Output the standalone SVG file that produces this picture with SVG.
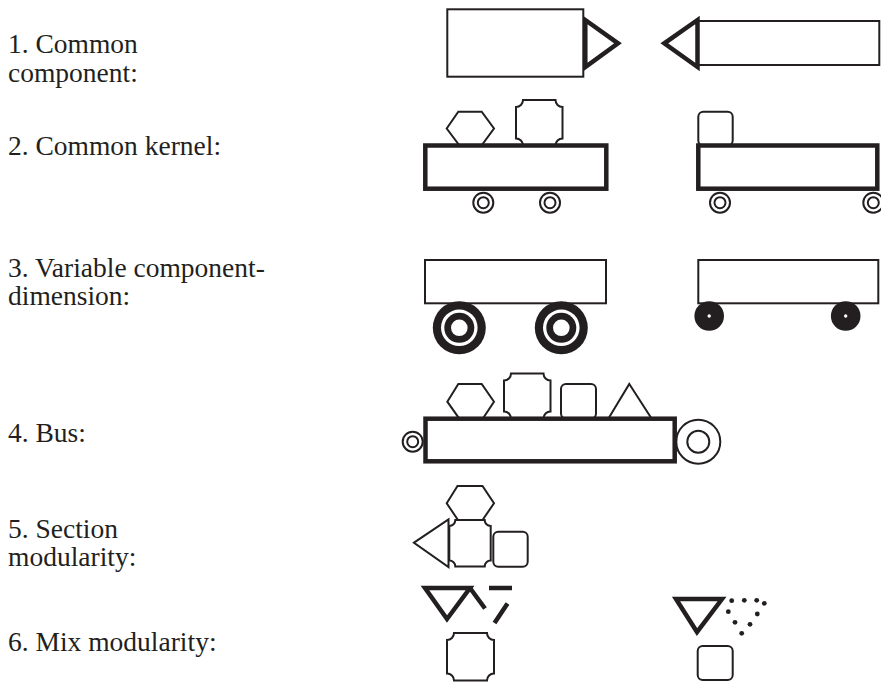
<svg xmlns="http://www.w3.org/2000/svg" width="881" height="682" viewBox="0 0 881 682">
  <style>
    .label { font-family: "Liberation Serif", "Times New Roman", serif; font-size: 27.5px; fill: #231f20; }
    .thin { fill: #ffffff; stroke: #231f20; stroke-width: 2; stroke-linejoin: miter; }
    .thick { fill: #ffffff; stroke: #231f20; stroke-width: 4.5; stroke-linejoin: miter; }
    .seg { fill: none; stroke: #231f20; stroke-width: 4.5; stroke-linecap: butt; }
    .ink { fill: #231f20; stroke: none; }
  </style>

  <!-- labels -->
  <g id="labels">
    <text class="label" x="8" y="53">1. Common</text>
    <text class="label" x="8" y="82">component:</text>
    <text class="label" x="8" y="155">2. Common kernel:</text>
    <text class="label" x="8" y="277">3. Variable component-</text>
    <text class="label" x="8" y="305">dimension:</text>
    <text class="label" x="8" y="442">4. Bus:</text>
    <text class="label" x="8" y="538">5. Section</text>
    <text class="label" x="8" y="566">modularity:</text>
    <text class="label" x="8" y="651">6. Mix modularity:</text>
  </g>

  <!-- 1. common component -->
  <g id="common-component-left">
    <rect class="thin" x="447.3" y="9.3" width="136" height="67.4"/>
    <polygon class="thick" points="585.3,20 618,43.3 585.3,67"/>
  </g>
  <g id="common-component-right">
    <rect class="thin" x="697.5" y="21" width="181.8" height="44"/>
    <polygon class="thick" points="697.5,20 664.3,43.3 697.5,67"/>
  </g>

  <!-- 2. common kernel -->
  <g id="common-kernel-left">
    <polygon class="thin" points="446.7,128.5 458.3,111.7 481.7,111.7 494,128.5 481.5,145.5 459.5,145.5"/>
    <path class="thin" d="M523,100 H555.5 A7,7 0 0 0 562.5,107 V138.5 A7,7 0 0 0 555.5,145.5 H523 A7,7 0 0 0 516,138.5 V107 A7,7 0 0 0 523,100 Z"/>
    <rect class="thick" x="425.3" y="145.5" width="181" height="43.2"/>
    <circle class="thin" cx="483.3" cy="202.7" r="10"/>
    <circle class="thin" cx="483.3" cy="202.7" r="5.5"/>
    <circle class="thin" cx="550" cy="202.7" r="10"/>
    <circle class="thin" cx="550" cy="202.7" r="5.5"/>
  </g>
  <g id="common-kernel-right">
    <rect class="thin" x="698.3" y="111.7" width="34.4" height="33.8" rx="5"/>
    <rect class="thick" x="698.3" y="145.5" width="179" height="43.2"/>
    <circle class="thin" cx="720" cy="202.7" r="10"/>
    <circle class="thin" cx="720" cy="202.7" r="5.5"/>
    <circle class="thin" cx="873.3" cy="202.7" r="10"/>
    <circle class="thin" cx="873.3" cy="202.7" r="5.5"/>
  </g>

  <!-- 3. variable component dimension -->
  <g id="variable-left">
    <rect class="thin" x="425" y="260" width="181" height="43.3"/>
    <g id="wheel-large-1">
      <circle cx="459.3" cy="327.8" r="26.5" class="ink"/>
      <circle cx="459.3" cy="327.8" r="18.3" fill="#ffffff"/>
      <circle cx="459.3" cy="327.8" r="15" class="ink"/>
      <circle cx="459.3" cy="327.8" r="8.3" fill="#ffffff"/>
    </g>
    <g id="wheel-large-2">
      <circle cx="561.3" cy="327.8" r="26.5" class="ink"/>
      <circle cx="561.3" cy="327.8" r="18.3" fill="#ffffff"/>
      <circle cx="561.3" cy="327.8" r="15" class="ink"/>
      <circle cx="561.3" cy="327.8" r="8.3" fill="#ffffff"/>
    </g>
  </g>
  <g id="variable-right">
    <rect class="thin" x="698.3" y="260" width="180" height="43.3"/>
    <circle cx="709.2" cy="316" r="14.8" class="ink"/>
    <circle cx="709.2" cy="316" r="1.7" fill="#ffffff"/>
    <circle cx="845.7" cy="316" r="14.8" class="ink"/>
    <circle cx="845.7" cy="316" r="1.7" fill="#ffffff"/>
  </g>

  <!-- 4. bus -->
  <g id="bus">
    <polygon class="thin" points="447.3,401.7 458.3,384 481.7,384 494,401.7 482.7,418.7 459.3,418.7"/>
    <path class="thin" d="M511,373.5 H543.5 A7,7 0 0 0 550.5,380.5 V411.5 A7,7 0 0 0 543.5,418.5 H511 A7,7 0 0 0 504,411.5 V380.5 A7,7 0 0 0 511,373.5 Z"/>
    <rect class="thin" x="561" y="384" width="35" height="34.5" rx="5"/>
    <polygon class="thin" points="629.3,384 651.7,418.7 608.3,418.7"/>
    <rect class="thick" x="425.5" y="418.7" width="249.2" height="42.6"/>
    <circle class="thin" cx="412.7" cy="441.7" r="10"/>
    <circle class="thin" cx="412.7" cy="441.7" r="5.5"/>
    <circle class="thin" cx="698.3" cy="441.7" r="22"/>
    <circle class="thin" cx="698.3" cy="441.7" r="11"/>
  </g>

  <!-- 5. section modularity -->
  <g id="section">
    <polygon class="thin" points="446.7,503.3 457.5,486 482.5,486 494,503.3 482.5,520 458,520"/>
    <polygon class="thin" points="414,542.7 448.5,519.5 448.5,567"/>
    <path class="thin" d="M455.3,520 H484.7 A6,6 0 0 0 490.7,526 V560.5 A6,6 0 0 0 484.7,566.5 H455.3 A6,6 0 0 0 449.3,560.5 V526 A6,6 0 0 0 455.3,520 Z"/>
    <rect class="thin" x="493.3" y="531.7" width="34.4" height="35" rx="5"/>
  </g>

  <!-- 6. mix modularity -->
  <g id="mix-left">
    <polygon class="thick" points="425,588 470,588 447,619"/>
    <line class="seg" x1="470" y1="588" x2="485" y2="608.5"/>
    <line class="seg" x1="489" y1="588" x2="512" y2="588"/>
    <line class="seg" x1="507.5" y1="603.5" x2="494.5" y2="623"/>
    <path class="thin" d="M454,633 H487 A7,7 0 0 0 494,640 V673.5 A7,7 0 0 0 487,680.5 H454 A7,7 0 0 0 447,673.5 V640 A7,7 0 0 0 454,633 Z"/>
  </g>
  <g id="mix-right">
    <polygon class="thick" points="676,599 722,599 697,632"/>
    <g class="ink">
      <circle cx="731.7" cy="600.7" r="2.4"/>
      <circle cx="744.3" cy="600.3" r="2.4"/>
      <circle cx="756.7" cy="600.3" r="2.4"/>
      <circle cx="764.3" cy="603.3" r="2.4"/>
      <circle cx="728.3" cy="611.7" r="2.4"/>
      <circle cx="757.3" cy="614" r="2.4"/>
      <circle cx="735" cy="622.3" r="2.4"/>
      <circle cx="750" cy="624.3" r="2.4"/>
      <circle cx="741.7" cy="633.3" r="2.4"/>
    </g>
    <rect class="thin" x="697.7" y="646" width="35" height="34" rx="5"/>
  </g>
</svg>
